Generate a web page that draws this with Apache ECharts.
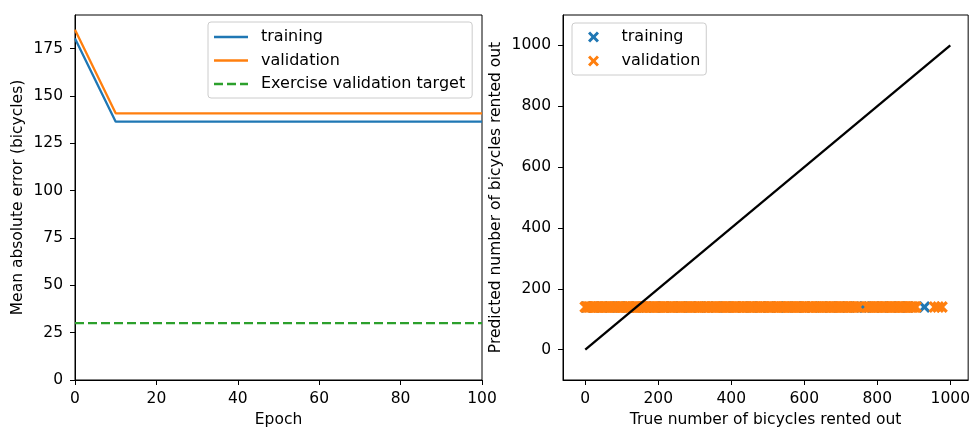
<!DOCTYPE html>
<html>
<head>
    <meta charset="utf-8">
    <title>Bicycle model</title>
    <script src="https://cdn.jsdelivr.net/npm/echarts@6/dist/echarts.min.js"></script>
    <style>
        html, body { margin: 0; padding: 0; background: #fff; overflow: hidden; }
        #main { width: 973px; height: 433px; }
    </style>
</head>
<body>
<div id="main"></div>
<script type="text/javascript">

    // left plot: error per epoch
    var epochs = [0, 10, 20, 30, 40, 50, 60, 70, 80, 90, 100];
    var trainMAE = [180.3, 136.4, 136.4, 136.4, 136.4, 136.4, 136.4, 136.4, 136.4, 136.4, 136.4];
    var valMAE = [184.9, 140.8, 140.8, 140.8, 140.8, 140.8, 140.8, 140.8, 140.8, 140.8, 140.8];
    var targetMAE = 30;
    var leftXTicks = [0, 20, 40, 60, 80, 100];
    var leftYTicks = [0, 25, 50, 75, 100, 125, 150, 175];

    // right plot: true vs predicted
    var trainTrue = [3, 22, 47, 68, 95, 118, 141, 167, 190, 214, 239, 262, 288, 311, 336, 359, 384, 409, 431, 456,
        480, 503, 529, 551, 577, 600, 623, 648, 672, 697, 719, 744, 757, 766, 790, 813, 838, 861, 884, 929];
    var trainPred = [139.7, 139.9, 139.6, 139.8, 140.0, 139.7, 139.8, 139.9, 139.6, 139.8, 139.7, 140.0, 139.8, 139.9,
        139.7, 139.8, 139.6, 139.9, 139.8, 139.7, 140.0, 139.8, 139.7, 139.9, 139.8, 139.6, 139.9, 139.8, 139.7, 140.0,
        139.8, 139.9, 139.7, 139.8, 139.6, 139.9, 139.8, 139.7, 139.9, 139.8];
    var valTrue = [0, 4, 7, 11, 15, 20, 24, 27, 31, 35, 38, 43, 47, 51, 55, 58, 61, 65, 69, 74, 78, 81, 85, 89, 92,
        97, 101, 104, 108, 112, 116, 119, 123, 128, 132, 135, 139, 142, 146, 151, 155, 158, 162, 166, 169, 174, 178,
        181, 185, 189, 193, 197, 201, 204, 208, 212, 216, 219, 223, 228, 232, 235, 239, 243, 247, 251, 255, 258, 262,
        265, 269, 274, 278, 281, 285, 289, 293, 296, 300, 305, 309, 312, 316, 320, 324, 327, 331, 335, 339, 344, 348,
        351, 355, 358, 362, 367, 371, 374, 378, 382, 386, 389, 393, 397, 401, 406, 410, 413, 416, 420, 424, 429, 433,
        436, 440, 443, 447, 451, 455, 459, 463, 467, 471, 474, 478, 482, 486, 489, 493, 498, 502, 505, 509, 512, 516,
        521, 525, 528, 532, 536, 540, 543, 547, 552, 556, 559, 563, 567, 571, 575, 579, 582, 586, 589, 593, 598, 602,
        605, 609, 613, 617, 620, 624, 629, 633, 636, 640, 644, 648, 651, 655, 659, 663, 667, 672, 675, 679, 682, 686,
        690, 694, 698, 702, 705, 709, 713, 717, 721, 725, 729, 733, 736, 740, 745, 749, 772, 776, 779, 783, 787, 791,
        794, 798, 802, 806, 811, 815, 818, 822, 825, 829, 834, 838, 841, 845, 848, 852, 856, 860, 864, 868, 871, 875,
        879, 883, 887, 891, 894, 898, 902, 906, 957, 967, 977];
    var valPred = [139.6, 139.8, 140.1, 139.7, 139.9, 140.2, 139.8, 139.6, 140.0, 139.9, 139.7, 140.1, 139.8, 139.9,
        140.2, 139.7, 139.6, 140.0, 139.8, 139.9, 140.1, 139.7, 139.8, 140.0, 139.9, 139.6, 140.2, 139.8, 139.7, 140.0,
        139.9, 139.8, 140.1, 139.6, 139.7, 140.0, 139.9, 139.8, 140.2, 139.7, 139.6, 140.0, 139.8, 139.9, 140.1, 139.7,
        139.8, 140.0, 139.9, 139.6, 140.2, 139.8, 139.7, 140.0, 139.9, 139.8, 140.1, 139.6, 139.7, 140.0, 139.9, 139.8,
        140.2, 139.7, 139.6, 140.0, 139.8, 139.9, 140.1, 139.7, 139.8, 140.0, 139.9, 139.6, 140.2, 139.8, 139.7, 140.0,
        139.9, 139.8, 140.1, 139.6, 139.7, 140.0, 139.9, 139.8, 140.2, 139.7, 139.6, 140.0, 139.8, 139.9, 140.1, 139.7,
        139.8, 140.0, 139.9, 139.6, 140.2, 139.8, 139.7, 140.0, 139.9, 139.8, 140.1, 139.6, 139.7, 140.0, 139.9, 139.8,
        140.2, 139.7, 139.6, 140.0, 139.8, 139.9, 140.1, 139.7, 139.8, 139.9, 140.0, 139.7, 139.8, 140.1, 139.6, 139.9,
        139.8, 140.0, 139.7, 139.9, 140.2, 139.8, 139.6, 140.0, 139.9, 139.7, 140.1, 139.8, 139.9, 140.0, 139.7, 139.6,
        140.1, 139.8, 139.9, 140.0, 139.7, 139.8, 140.2, 139.6, 139.9, 140.0, 139.8, 139.7, 140.1, 139.9, 139.8, 139.6,
        140.0, 139.7, 139.9, 140.2, 139.8, 139.7, 140.0, 139.9, 139.6, 140.1, 139.8, 139.7, 140.0, 139.9, 139.8, 140.2,
        139.7, 139.6, 140.0, 139.8, 139.9, 140.1, 139.7, 139.8, 140.0, 139.9, 139.6, 140.2, 139.8, 139.7, 140.0, 139.9,
        139.8, 140.1, 139.6, 139.7, 140.0, 139.9, 139.8, 140.2, 139.7, 139.6, 140.0, 139.8, 139.9, 140.1, 139.7, 139.8,
        140.0, 139.9, 139.6, 140.2, 139.8, 139.7, 140.0, 139.9, 139.8, 140.1, 139.6, 139.7, 140.0, 139.9, 139.8, 140.2,
        139.7, 139.6, 140.0, 139.8, 139.9, 140.1, 139.7, 139.8, 139.9, 140.0, 139.7, 139.8];
    var idealLine = [0, 1000];
    var rightXTicks = [0, 200, 400, 600, 800, 1000];
    var rightYTicks = [0, 200, 400, 600, 800, 1000];

    function zip(a, b) {
        var out = [];
        for (var i = 0; i < a.length; i++) out.push([a[i], b[i]]);
        return out;
    }

    var blue = '#1f77b4', orange = '#ff7f0e', green = '#2ca02c';
    var font = 'DejaVu Sans';
    var fs = 15.5;
    var crossPath = 'path://M0,2.3L2.3,0L6,3.7L9.7,0L12,2.3L8.3,6L12,9.7L9.7,12L6,8.3L2.3,12L0,9.7L3.7,6Z';
    var lineIcon = 'path://M0,0H34V2.3H0Z';
    var dashIcon = 'path://M0,0H9V2.3H0ZM13,0H22V2.3H13ZM26,0H34V2.3H26Z';

    function axisCommon(ticks, name, gap, labelMargin) {
        return {
            type: 'value',
            name: name,
            nameLocation: 'middle',
            nameGap: gap,
            nameTextStyle: { fontFamily: font, fontSize: fs, color: '#000' },
            axisLine: { show: true, onZero: false, lineStyle: { color: '#000', width: 1 } },
            axisTick: { show: true, inside: false, length: 5, customValues: ticks, lineStyle: { color: '#000' } },
            axisLabel: {
                customValues: ticks, margin: labelMargin, fontFamily: font, fontSize: fs, color: '#000',
                formatter: function (v) { return String(v); }
            },
            splitLine: { show: false }
        };
    }

    var xLeft = axisCommon(leftXTicks, 'Epoch', 32, 11);
    xLeft.gridIndex = 0; xLeft.min = 0; xLeft.max = 100;
    var yLeft = axisCommon(leftYTicks, 'Mean absolute error (bicycles)', 49, 12);
    yLeft.gridIndex = 0; yLeft.min = 0; yLeft.max = 192.7;
    var xRight = axisCommon(rightXTicks, 'True number of bicycles rented out', 32, 11);
    xRight.gridIndex = 1; xRight.min = -61; xRight.max = 1049;
    var yRight = axisCommon(rightYTicks, 'Predicted number of bicycles rented out', 59, 12);
    yRight.gridIndex = 1; yRight.min = -100; yRight.max = 1100;

    var myChart = echarts.init(document.getElementById('main'));

    myChart.setOption({
        animation: false,
        backgroundColor: '#fff',
        grid: [
            { left: 75, top: 15, right: 491, bottom: 48, show: true, borderColor: '#000', borderWidth: 1 },
            { left: 563, top: 15, right: 2, bottom: 48, show: true, borderColor: '#000', borderWidth: 1 }
        ],
        legend: [
            {
                orient: 'vertical', left: 208, top: 22,
                padding: [7, 7, 6, 6],
                itemWidth: 34, itemHeight: 16, itemGap: 7.5,
                borderColor: '#ccc', borderWidth: 1, borderRadius: 3,
                backgroundColor: 'rgba(255,255,255,0.8)',
                textStyle: { fontFamily: font, fontSize: 16, color: '#000', padding: [0, 0, 0, 8] },
                data: [
                    { name: 'training', icon: lineIcon },
                    { name: 'validation', icon: lineIcon },
                    { name: 'Exercise validation target', icon: dashIcon }
                ]
            },
            {
                orient: 'vertical', left: 572, top: 23,
                padding: [6, 6, 6, 16],
                itemWidth: 34, itemHeight: 11, itemGap: 8,
                borderColor: '#ccc', borderWidth: 1, borderRadius: 3,
                backgroundColor: 'rgba(255,255,255,0.8)',
                textStyle: { fontFamily: font, fontSize: 16, color: '#000', padding: [0, 0, 0, 6] },
                formatter: function (name) { return name.trim(); },
                data: ['training ', 'validation ']
            }
        ],
        xAxis: [xLeft, xRight],
        yAxis: [yLeft, yRight],
        series: [
            {
                name: 'training', type: 'line', xAxisIndex: 0, yAxisIndex: 0,
                symbol: 'none', color: blue,
                lineStyle: { width: 2.3, color: blue },
                data: zip(epochs, trainMAE)
            },
            {
                name: 'validation', type: 'line', xAxisIndex: 0, yAxisIndex: 0,
                symbol: 'none', color: orange,
                lineStyle: { width: 2.3, color: orange },
                data: zip(epochs, valMAE)
            },
            {
                name: 'Exercise validation target', type: 'line', xAxisIndex: 0, yAxisIndex: 0,
                symbol: 'none', color: green,
                lineStyle: { width: 2.3, color: green, type: [9, 4] },
                data: [[epochs[0], targetMAE], [epochs[epochs.length - 1], targetMAE]]
            },
            {
                name: 'training ', type: 'scatter', xAxisIndex: 1, yAxisIndex: 1,
                symbol: crossPath, symbolSize: 12, color: blue,
                itemStyle: { color: blue, opacity: 1 },
                data: zip(trainTrue, trainPred)
            },
            {
                name: 'validation ', type: 'scatter', xAxisIndex: 1, yAxisIndex: 1,
                symbol: crossPath, symbolSize: 12, color: orange,
                itemStyle: { color: orange, opacity: 1 },
                data: zip(valTrue, valPred)
            },
            {
                name: 'ideal', type: 'line', xAxisIndex: 1, yAxisIndex: 1,
                symbol: 'none', color: '#000',
                lineStyle: { width: 2.3, color: '#000' },
                data: zip(idealLine, idealLine)
            }
        ]
    });
</script>
</body>
</html>
